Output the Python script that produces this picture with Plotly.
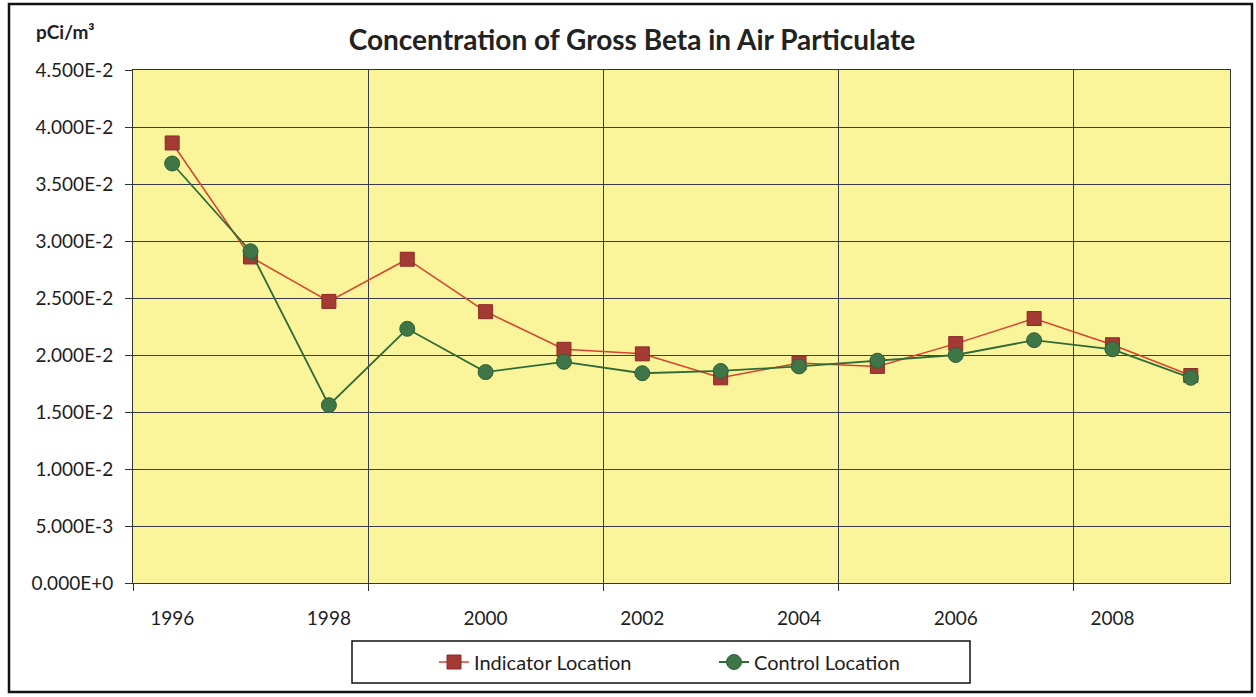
import plotly.graph_objects as go

# values (pCi/m3)
years = [1996, 1997, 1998, 1999, 2000, 2001, 2002, 2003, 2004, 2005, 2006, 2007, 2008, 2009]
indicator = [0.0386, 0.0286, 0.0247, 0.0284, 0.0238, 0.0205, 0.0201, 0.0180, 0.0193, 0.0190, 0.0210, 0.0232, 0.0209, 0.0182]
control = [0.0368, 0.0291, 0.0156, 0.0223, 0.0185, 0.0194, 0.0184, 0.0186, 0.0190, 0.0195, 0.0200, 0.0213, 0.0205, 0.0180]

y_ticks = [0.0, 0.005, 0.010, 0.015, 0.020, 0.025, 0.030, 0.035, 0.040, 0.045]
y_labels = ['0.000E+0', '5.000E-3', '1.000E-2', '1.500E-2', '2.000E-2',
            '2.500E-2', '3.000E-2', '3.500E-2', '4.000E-2', '4.500E-2']

W, H = 1256, 697
L, R, T, B = 133, 1230, 70, 583  # plot area in pixels


def px_x(p):
    return (p - L) / (R - L)


def px_y(p):
    return (B - p) / (B - T)


idx = list(range(len(years)))
font = 'Lato, "Open Sans", sans-serif'

fig = go.Figure()
fig.add_trace(go.Scatter(
    x=idx, y=indicator, name='Indicator Location', mode='lines+markers',
    line=dict(color='#D9412F', width=1.5),
    marker=dict(symbol='square', size=14, color='#A33A34',
                line=dict(color='#8E2A26', width=1))
))
fig.add_trace(go.Scatter(
    x=idx, y=control, name='Control Location', mode='lines+markers',
    line=dict(color='#2F6B38', width=1.8),
    marker=dict(symbol='circle', size=15, color='#3E7648',
                line=dict(color='#2F6038', width=1))
))

fig.update_layout(
    width=W, height=H,
    margin=dict(l=L, r=W - R, t=T, b=H - B),
    paper_bgcolor='white',
    plot_bgcolor='#FAF59A',
    font=dict(family=font, size=19, color='#1E1E1E'),
    title=dict(text='<b>Concentration of Gross Beta in Air Particulate</b>',
               x=632 / W, xanchor='center', y=1 - 40 / H, yanchor='middle',
               font=dict(size=28, color='#222222')),
    showlegend=True,
    legend=dict(orientation='h', x=px_x(434), xanchor='left',
                y=px_y(662), yanchor='middle',
                borderwidth=0, bgcolor='rgba(0,0,0,0)',
                font=dict(size=20), entrywidth=235),
)

fig.update_xaxes(
    range=[-0.5, len(years) - 0.5],
    tickvals=idx[::2], ticktext=[str(y) for y in years[::2]],
    ticks='', showgrid=False, zeroline=False,
    showline=True, linecolor='#333333', linewidth=1, mirror=True,
    tickfont=dict(size=19), ticklabelstandoff=18,
    minor=dict(tick0=-0.5, dtick=3, showgrid=True, gridcolor='#3A3A4A',
               gridwidth=1, ticks='outside', ticklen=7, tickcolor='#333333'),
)
fig.update_yaxes(
    range=[0, 0.045], tickvals=y_ticks, ticktext=y_labels,
    ticks='outside', ticklen=7, tickcolor='#333333',
    showgrid=True, gridcolor='#3A3A4A', gridwidth=1, zeroline=False,
    showline=True, linecolor='#333333', linewidth=1, mirror=True,
    tickfont=dict(size=19), ticklabelstandoff=8,
)

fig.add_annotation(
    text='<b>pCi/m³</b>', xref='paper', yref='paper',
    x=px_x(34), y=px_y(32), xanchor='left', yanchor='middle',
    showarrow=False, font=dict(size=19, color='#222222'),
)

# outer chart frame
fig.add_shape(type='rect', xref='paper', yref='paper',
              x0=px_x(9), x1=px_x(1252), y0=px_y(692), y1=px_y(4),
              line=dict(color='#111111', width=2.5), layer='below')
# legend frame
fig.add_shape(type='rect', xref='paper', yref='paper',
              x0=px_x(352), x1=px_x(970), y0=px_y(683), y1=px_y(641),
              line=dict(color='#111111', width=1.5), layer='below')

# drop the default page margin so the figure sits at the window's corner
fig.write_html("out.html", config={'displayModeBar': False},
               post_script="document.body.style.margin='0';")
